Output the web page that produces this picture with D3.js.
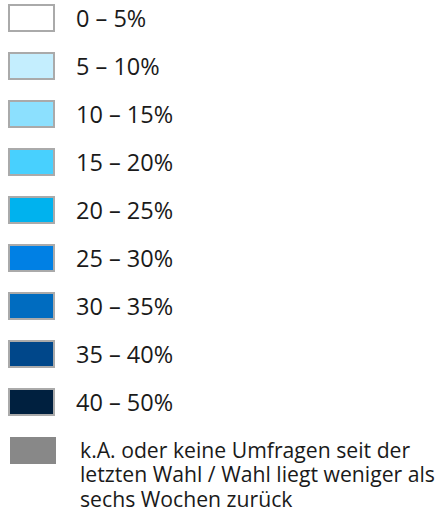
<!DOCTYPE html>
<html>
<head>
<meta charset="utf-8">
<script src="https://cdn.jsdelivr.net/npm/d3@7"></script>
<style>
  body { margin: 0; background: #fff; }
  text { font-family: "Open Sans", sans-serif; fill: #1a1a1a; }
</style>
</head>
<body>
<div id="legend"></div>
<script>
// Legend categories and colours
const labels = ["0 – 5%", "5 – 10%", "10 – 15%", "15 – 20%", "20 – 25%",
                "25 – 30%", "30 – 35%", "35 – 40%", "40 – 50%"];
const colors = ["#ffffff", "#c4eefe", "#8ce0fe", "#48d0fe", "#00b2ee",
                "#0080e4", "#006cc0", "#00478a", "#00203f"];
const naLabel = ["k.A. oder keine Umfragen seit der",
                 "letzten Wahl / Wahl liegt weniger als",
                 "sechs Wochen zurück"];
const naColor = "#888888";

const width = 439, height = 512;

const svg = d3.select("#legend")
    .append("svg")
    .attr("width", width)
    .attr("height", height);

// one row per category, plus the "no data" row
const rows = labels.concat(["na"]);
const y = d3.scalePoint()
    .domain(rows)
    .range([18, 450]);

const items = labels.map((l, i) => ({ label: l, color: colors[i] }));

const g = svg.selectAll(".item")
    .data(items)
    .enter().append("g")
    .attr("class", "item")
    .attr("transform", d => `translate(0,${y(d.label)})`);

g.append("rect")
    .attr("x", 9)
    .attr("y", -13)
    .attr("width", 45)
    .attr("height", 26)
    .style("fill", d => d.color)
    .style("stroke", "#aaaaaa")
    .style("stroke-width", 2);

g.append("text")
    .attr("x", 76)
    .attr("y", 8.5)
    .style("font-size", "23.5px")
    .text(d => d.label);

// no data row
const na = svg.append("g")
    .attr("transform", `translate(0,${y("na")})`);

na.append("rect")
    .attr("x", 10)
    .attr("y", -13)
    .attr("width", 46)
    .attr("height", 27)
    .style("fill", naColor);

na.append("text")
    .attr("x", 80)
    .attr("y", 7.5)
    .style("font-size", "21.2px")
    .selectAll("tspan")
    .data(naLabel)
    .enter().append("tspan")
    .attr("x", 80)
    .attr("dy", (d, i) => i === 0 ? 0 : 24.5)
    .text(d => d);
</script>
</body>
</html>
